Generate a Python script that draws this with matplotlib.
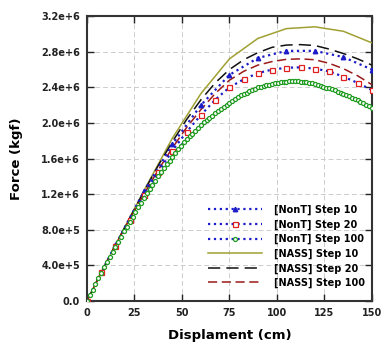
import numpy as np
import matplotlib
matplotlib.use('Agg')
import matplotlib.pyplot as plt

# force (x1e6 kgf), per analysis step
nass_10 = [0, 0.63, 1.24, 1.83, 2.33, 2.72, 2.95, 3.06, 3.08, 3.03, 2.90]
nont_10 = [0, 0.63, 1.23, 1.76, 2.20, 2.54, 2.73, 2.81, 2.81, 2.74, 2.60]
nass_20 = [0, 0.32, 0.63, 0.93, 1.23, 1.52, 1.79, 2.04, 2.26, 2.45, 2.60,
           2.71, 2.79, 2.85, 2.875, 2.88, 2.87, 2.83, 2.78, 2.72, 2.65]
nont_20 = [0, 0.32, 0.62, 0.91, 1.19, 1.45, 1.69, 1.90, 2.09, 2.26, 2.40,
           2.49, 2.56, 2.60, 2.62, 2.625, 2.61, 2.58, 2.52, 2.45, 2.37]
nass_100 = [0, 0.32, 0.63, 0.92, 1.20, 1.47, 1.72, 1.95, 2.15, 2.33, 2.48,
            2.58, 2.65, 2.69, 2.715, 2.72, 2.71, 2.67, 2.61, 2.53, 2.43]
nont_100 = [0.000, 0.064, 0.127, 0.190, 0.253, 0.316, 0.379, 0.439, 0.496, 0.553,
            0.610, 0.667, 0.724, 0.781, 0.836, 0.890, 0.944, 0.998, 1.052, 1.106,
            1.160, 1.208, 1.256, 1.304, 1.352, 1.400, 1.448, 1.494, 1.536, 1.578,
            1.620, 1.662, 1.704, 1.746, 1.782, 1.815, 1.848, 1.881, 1.914, 1.947,
            1.980, 2.006, 2.031, 2.057, 2.082, 2.108, 2.133, 2.158, 2.180, 2.203,
            2.225, 2.248, 2.270, 2.293, 2.310, 2.325, 2.340, 2.355, 2.370, 2.385,
            2.400, 2.408, 2.415, 2.423, 2.430, 2.438, 2.445, 2.452, 2.456, 2.461,
            2.465, 2.467, 2.468, 2.470, 2.468, 2.465, 2.462, 2.459, 2.452, 2.446,
            2.440, 2.430, 2.419, 2.409, 2.398, 2.388, 2.377, 2.366, 2.352, 2.339,
            2.325, 2.312, 2.298, 2.285, 2.269, 2.253, 2.236, 2.220, 2.203, 2.187,
            2.170]

x_max = 150
x_ticks = [0, 25, 50, 75, 100, 125, 150]
y_ticks = [0, 4e5, 8e5, 1.2e6, 1.6e6, 2.0e6, 2.4e6, 2.8e6, 3.2e6]
y_labels = ['0.0', '4.0e+5', '8.0e+5', '1.2e+6', '1.6e+6', '2.0e+6',
            '2.4e+6', '2.8e+6', '3.2e+6']


def disp(vals):
    # displacement grid: equal load steps from 0 to 150 cm
    return np.linspace(0, x_max, len(vals))


fig = plt.figure(figsize=(3.83, 3.51), dpi=100)
ax = fig.add_axes([0.227, 0.1425, 0.744, 0.8115])

blue = '#1c1cc8'
ax.plot(disp(nont_10), np.array(nont_10) * 1e6, ls=':', lw=1.6, color=blue,
        marker='^', ms=3.2, mfc=blue, mec=blue, label='[NonT] Step 10', zorder=4)
ax.plot(disp(nont_20), np.array(nont_20) * 1e6, ls=':', lw=1.6, color=blue,
        marker='s', ms=3.6, mfc='white', mec='#e02020', mew=0.9,
        label='[NonT] Step 20', zorder=4)
ax.plot(disp(nont_100), np.array(nont_100) * 1e6, ls=':', lw=1.6, color=blue,
        marker='o', ms=2.9, mfc='white', mec='#1e9a1e', mew=0.9,
        label='[NonT] Step 100', zorder=4)
ax.plot(disp(nass_10), np.array(nass_10) * 1e6, ls='-', lw=1.1,
        color='#a0a032', label='[NASS] Step 10', zorder=3)
ax.plot(disp(nass_20), np.array(nass_20) * 1e6, ls=(0, (8, 4)), lw=1.1,
        color='#111111', label='[NASS] Step 20', zorder=3)
ax.plot(disp(nass_100), np.array(nass_100) * 1e6, ls=(0, (6, 3)), lw=1.1,
        color='#9a1a1a', label='[NASS] Step 100', zorder=3)

ax.set_xlim(0, x_max)
ax.set_ylim(0, 3.2e6)
ax.set_xticks(x_ticks)
ax.set_xticklabels([str(t) for t in x_ticks], fontweight='bold', fontsize=7)
ax.set_yticks(y_ticks)
ax.set_yticklabels(y_labels, fontweight='bold', fontsize=7)
ax.tick_params(direction='in', length=5, width=1, top=True, right=True,
               pad=5, colors='#222222')
ax.grid(True, ls=(0, (5, 3)), lw=0.7, color='#cccccc')
for sp in ax.spines.values():
    sp.set_linewidth(1.5)
    sp.set_color('#333333')

ax.set_xlabel('Displament (cm)', fontweight='bold', fontsize=9.5, labelpad=8)
ax.set_ylabel('Force (kgf)', fontweight='bold', fontsize=9.5, labelpad=13)

leg = ax.legend(loc='lower left', bbox_to_anchor=(0.425, 0.045), frameon=False,
                prop={'weight': 'bold', 'size': 7}, numpoints=1,
                handlelength=5.6, handletextpad=1.2, labelspacing=0.45,
                borderpad=0, borderaxespad=0)

fig.savefig('out.png', dpi=100)
